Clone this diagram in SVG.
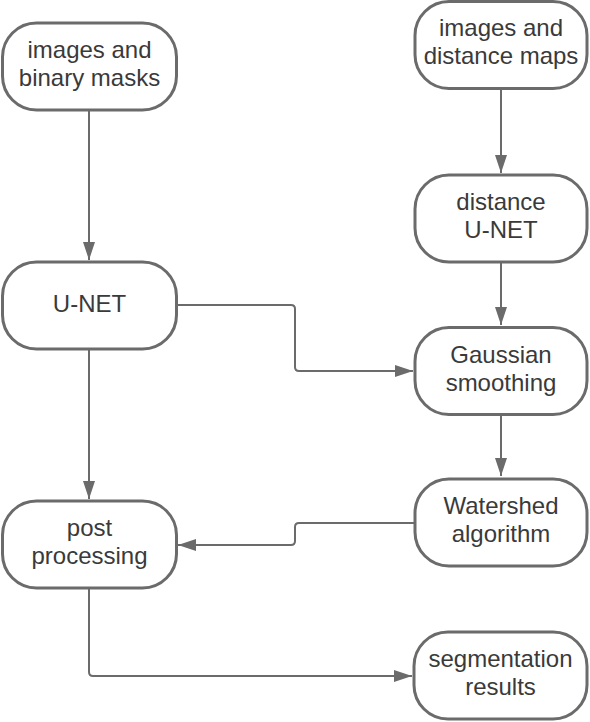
<svg xmlns="http://www.w3.org/2000/svg" width="590" height="722" viewBox="0 0 590 722">
<style>
.node rect{fill:#fff;stroke:#6b6b6b;stroke-width:3}
.node text{font-family:"Liberation Sans",Arial,sans-serif;font-size:24px;fill:#3a3a3a;text-anchor:middle}
.conn path{fill:none;stroke:#6b6b6b;stroke-width:2}
</style>
<defs>
<marker id="arr" viewBox="0 0 18 12" refX="18" refY="6" markerWidth="18" markerHeight="12" markerUnits="userSpaceOnUse" orient="auto">
<path d="M0,0 L18,6 L0,12 z" fill="#6b6b6b"/>
</marker>
</defs>
<rect width="590" height="722" fill="#fff"/>
<g id="connectors" class="conn">
<path d="M89,111 V260" marker-end="url(#arr)"/>
<path d="M501,89 V173" marker-end="url(#arr)"/>
<path d="M501,263 V325" marker-end="url(#arr)"/>
<path d="M177,305 H291 Q295,305 295,309 V367 Q295,371 299,371 H413" marker-end="url(#arr)"/>
<path d="M89,350 V499" marker-end="url(#arr)"/>
<path d="M501,416 V476" marker-end="url(#arr)"/>
<path d="M414,523 H299 Q295,523 295,527 V541 Q295,545 291,545 H178" marker-end="url(#arr)"/>
<path d="M89,589 V672 Q89,676 93,676 H412" marker-end="url(#arr)"/>
</g>
<g id="n-images-masks" class="node">
<rect x="2.5" y="23" width="174" height="87" rx="34"/>
<text x="89.5" y="58">images and</text>
<text x="89.5" y="86">binary masks</text>
</g>
<g id="n-images-distance" class="node">
<rect x="415" y="1.5" width="172" height="87" rx="34"/>
<text x="501" y="36">images and</text>
<text x="501" y="64">distance maps</text>
</g>
<g id="n-distance-unet" class="node">
<rect x="415" y="175" width="172" height="87" rx="34"/>
<text x="501" y="210">distance</text>
<text x="501" y="238">U-NET</text>
</g>
<g id="n-unet" class="node">
<rect x="2.5" y="262" width="174" height="87" rx="34"/>
<text x="89.5" y="312">U-NET</text>
</g>
<g id="n-gaussian" class="node">
<rect x="415" y="327.5" width="172" height="87" rx="34"/>
<text x="501" y="363">Gaussian</text>
<text x="501" y="391">smoothing</text>
</g>
<g id="n-post" class="node">
<rect x="2.5" y="501" width="174" height="87" rx="34"/>
<text x="89.5" y="536">post</text>
<text x="89.5" y="564">processing</text>
</g>
<g id="n-watershed" class="node">
<rect x="415" y="479" width="172" height="87" rx="34"/>
<text x="501" y="514">Watershed</text>
<text x="501" y="542">algorithm</text>
</g>
<g id="n-segmentation" class="node">
<rect x="414" y="632" width="173" height="87" rx="34"/>
<text x="500.5" y="667">segmentation</text>
<text x="500.5" y="695">results</text>
</g>
</svg>
